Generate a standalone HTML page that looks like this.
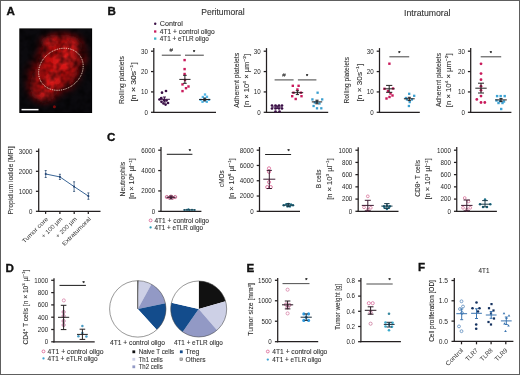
<!DOCTYPE html>
<html><head><meta charset="utf-8"><style>
html,body{margin:0;padding:0;background:#fff;}
body{width:520px;height:375px;overflow:hidden;}
#wrap{position:relative;width:520px;height:375px;overflow:hidden;}
svg{display:block;font-family:"Liberation Sans", sans-serif;filter:blur(0.3px);}
#frame{position:absolute;left:0;top:0;width:520px;height:375px;box-sizing:border-box;border:1px solid #5e5e5e;}
</style></head><body>
<div id="wrap">
<svg width="520" height="375" viewBox="0 0 520 375">
<rect width="520" height="375" fill="#fff"/>
<text x="6.40" y="14.60" font-size="11.6" text-anchor="start" fill="#111" font-weight="bold" stroke="#111" stroke-width="0.35">A</text>
<text x="107.40" y="14.60" font-size="11.6" text-anchor="start" fill="#111" font-weight="bold" stroke="#111" stroke-width="0.35">B</text>
<text x="107.00" y="140.50" font-size="11.6" text-anchor="start" fill="#111" font-weight="bold" stroke="#111" stroke-width="0.35">C</text>
<text x="5.60" y="272.00" font-size="11.6" text-anchor="start" fill="#111" font-weight="bold" stroke="#111" stroke-width="0.35">D</text>
<text x="246.60" y="271.60" font-size="11.6" text-anchor="start" fill="#111" font-weight="bold" stroke="#111" stroke-width="0.35">E</text>
<text x="418.00" y="271.10" font-size="11.6" text-anchor="start" fill="#111" font-weight="bold" stroke="#111" stroke-width="0.35">F</text>
<defs>
<radialGradient id="rg1" cx="0.5" cy="0.5" r="0.5">
<stop offset="0" stop-color="#d41414" stop-opacity="1"/>
<stop offset="0.6" stop-color="#c00e0e" stop-opacity="0.9"/>
<stop offset="1" stop-color="#600505" stop-opacity="0"/>
</radialGradient>
<radialGradient id="rg2" cx="0.5" cy="0.5" r="0.5">
<stop offset="0" stop-color="#ff2a2a" stop-opacity="0.75"/>
<stop offset="1" stop-color="#ff2020" stop-opacity="0"/>
</radialGradient>
<radialGradient id="rg3" cx="0.5" cy="0.5" r="0.5">
<stop offset="0" stop-color="#a00a0a" stop-opacity="0.8"/>
<stop offset="1" stop-color="#a00a0a" stop-opacity="0"/>
</radialGradient>
<filter id="noiseA" x="0" y="0" width="1" height="1" color-interpolation-filters="sRGB">
<feTurbulence type="fractalNoise" baseFrequency="0.14" numOctaves="2" seed="4" result="t"/>
<feColorMatrix in="t" type="matrix" values="0 0 0 0 0  0 0 0 0 0  0 0 0 0 0  2.2 0 0 0 -0.8"/>
</filter>
<filter id="blA" x="-30%" y="-30%" width="160%" height="160%"><feGaussianBlur stdDeviation="3.2"/></filter>
<clipPath id="clipA"><rect x="20" y="29.1" width="71.4" height="83.2"/></clipPath>
</defs>
<rect x="19.3" y="28.4" width="72.8" height="84.6" fill="#000"/>
<rect x="20" y="29.1" width="71.4" height="83.2" fill="#0b0a0e"/>
<g clip-path="url(#clipA)">
<g filter="url(#blA)">
<ellipse cx="58" cy="66" rx="27" ry="31" fill="url(#rg1)"/>
<ellipse cx="62" cy="44" rx="26" ry="13" fill="url(#rg1)" opacity="0.85"/>
<ellipse cx="44" cy="88" rx="19" ry="17" fill="url(#rg1)" opacity="0.85"/>
<ellipse cx="34" cy="76" rx="10" ry="17" fill="url(#rg3)"/>
<ellipse cx="82" cy="58" rx="7" ry="14" fill="url(#rg3)"/>
<ellipse cx="66" cy="60" rx="15" ry="12" fill="url(#rg2)"/>
<ellipse cx="72" cy="46" rx="10" ry="7" fill="url(#rg2)"/>
<ellipse cx="50" cy="42" rx="9" ry="6" fill="url(#rg2)"/>
<ellipse cx="52" cy="80" rx="12" ry="10" fill="url(#rg2)"/>
<ellipse cx="44" cy="96" rx="10" ry="6" fill="url(#rg2)"/>
</g>
<rect x="20" y="29.1" width="71.4" height="83.2" fill="#000" filter="url(#noiseA)" opacity="0.6"/>
<circle cx="54.4" cy="106.8" r="1.5" fill="#7a0a0a"/>
</g>
<ellipse cx="60.8" cy="69.3" rx="23.4" ry="19.8" transform="rotate(-35 60.8 69.1)" fill="none" stroke="#f6e4d0" stroke-width="0.9" stroke-dasharray="0.9 0.9"/>
<rect x="21.5" y="108.9" width="17" height="1.5" fill="#fff"/>
<line x1="38.70" y1="148.40" x2="38.70" y2="211.93" stroke="#231f20" stroke-width="1.25"/>
<line x1="38.08" y1="211.30" x2="100.50" y2="211.30" stroke="#231f20" stroke-width="1.25"/>
<line x1="35.90" y1="151.30" x2="38.70" y2="151.30" stroke="#231f20" stroke-width="1.25"/>
<text x="32.50" y="153.68" font-size="6.696000000000001" text-anchor="end" fill="#262626" textLength="13.79" lengthAdjust="spacingAndGlyphs" >3000</text>
<line x1="35.90" y1="171.30" x2="38.70" y2="171.30" stroke="#231f20" stroke-width="1.25"/>
<text x="32.50" y="173.68" font-size="6.696000000000001" text-anchor="end" fill="#262626" textLength="13.79" lengthAdjust="spacingAndGlyphs" >2000</text>
<line x1="35.90" y1="191.30" x2="38.70" y2="191.30" stroke="#231f20" stroke-width="1.25"/>
<text x="32.50" y="193.68" font-size="6.696000000000001" text-anchor="end" fill="#262626" textLength="13.79" lengthAdjust="spacingAndGlyphs" >1000</text>
<line x1="35.90" y1="211.30" x2="38.70" y2="211.30" stroke="#231f20" stroke-width="1.25"/>
<text x="32.50" y="213.68" font-size="6.696000000000001" text-anchor="end" fill="#262626" textLength="3.45" lengthAdjust="spacingAndGlyphs" >0</text>
<line x1="45.60" y1="211.30" x2="45.60" y2="213.90" stroke="#231f20" stroke-width="1.25"/>
<line x1="59.90" y1="211.30" x2="59.90" y2="213.90" stroke="#231f20" stroke-width="1.25"/>
<line x1="74.20" y1="211.30" x2="74.20" y2="213.90" stroke="#231f20" stroke-width="1.25"/>
<line x1="88.30" y1="211.30" x2="88.30" y2="213.90" stroke="#231f20" stroke-width="1.25"/>
<polyline points="45.7,174.0 59.9,176.9 74.1,186.6 88.4,196.1" fill="none" stroke="#3a6696" stroke-width="1.0"/>
<line x1="45.70" y1="170.50" x2="45.70" y2="177.50" stroke="#3a5a84" stroke-width="0.8"/>
<line x1="44.70" y1="170.50" x2="46.70" y2="170.50" stroke="#2a4a70" stroke-width="0.8"/>
<line x1="44.70" y1="177.50" x2="46.70" y2="177.50" stroke="#2a4a70" stroke-width="0.8"/>
<rect x="44.85" y="173.15" width="1.7" height="1.7" fill="#1b3d6e"/>
<line x1="59.90" y1="174.30" x2="59.90" y2="179.50" stroke="#3a5a84" stroke-width="0.8"/>
<line x1="58.90" y1="174.30" x2="60.90" y2="174.30" stroke="#2a4a70" stroke-width="0.8"/>
<line x1="58.90" y1="179.50" x2="60.90" y2="179.50" stroke="#2a4a70" stroke-width="0.8"/>
<rect x="59.05" y="176.05" width="1.7" height="1.7" fill="#1b3d6e"/>
<line x1="74.10" y1="181.80" x2="74.10" y2="191.40" stroke="#3a5a84" stroke-width="0.8"/>
<line x1="73.10" y1="181.80" x2="75.10" y2="181.80" stroke="#2a4a70" stroke-width="0.8"/>
<line x1="73.10" y1="191.40" x2="75.10" y2="191.40" stroke="#2a4a70" stroke-width="0.8"/>
<rect x="73.25" y="185.75" width="1.7" height="1.7" fill="#1b3d6e"/>
<line x1="88.40" y1="192.90" x2="88.40" y2="199.30" stroke="#3a5a84" stroke-width="0.8"/>
<line x1="87.40" y1="192.90" x2="89.40" y2="192.90" stroke="#2a4a70" stroke-width="0.8"/>
<line x1="87.40" y1="199.30" x2="89.40" y2="199.30" stroke="#2a4a70" stroke-width="0.8"/>
<rect x="87.55" y="195.25" width="1.7" height="1.7" fill="#1b3d6e"/>
<text x="13.46" y="180.50" font-size="6.9" text-anchor="middle" fill="#333333" stroke="#333333" stroke-width="0.1" transform="rotate(-90 13.46 180.50)" textLength="68.2" lengthAdjust="spacingAndGlyphs" >Propidium iodide [MFI]</text>
<text x="48.60" y="219.40" font-size="6.0" text-anchor="end" fill="#333333" transform="rotate(-45 48.60 219.4)" textLength="34" lengthAdjust="spacingAndGlyphs">Tumor core</text>
<text x="62.90" y="219.40" font-size="6.0" text-anchor="end" fill="#333333" transform="rotate(-45 62.90 219.4)" textLength="27" lengthAdjust="spacingAndGlyphs">+ 100 µm</text>
<text x="77.20" y="219.40" font-size="6.0" text-anchor="end" fill="#333333" transform="rotate(-45 77.20 219.4)" textLength="27" lengthAdjust="spacingAndGlyphs">+ 200 µm</text>
<text x="91.30" y="219.40" font-size="6.0" text-anchor="end" fill="#333333" transform="rotate(-45 91.30 219.4)" textLength="38" lengthAdjust="spacingAndGlyphs">Extratumoral</text>
<text x="223.00" y="15.40" font-size="8.4" text-anchor="middle" fill="#333" stroke="#333" stroke-width="0.1" textLength="43.5" lengthAdjust="spacingAndGlyphs" >Peritumoral</text>
<text x="427.30" y="15.60" font-size="8.4" text-anchor="middle" fill="#333" stroke="#333" stroke-width="0.1" textLength="46.5" lengthAdjust="spacingAndGlyphs" >Intratumoral</text>
<circle cx="155.20" cy="23.80" r="1.2" fill="#3a0f46"/>
<rect x="154.05" y="30.35" width="2.3" height="2.3" fill="#c91a5b"/>
<rect x="154.05" y="37.45" width="2.3" height="2.3" fill="#3fb2c8"/>
<text x="159.80" y="26.00" font-size="6.5" text-anchor="start" fill="#333" stroke="#333" stroke-width="0.1" textLength="23" lengthAdjust="spacingAndGlyphs" >Control</text>
<text x="159.80" y="33.70" font-size="6.5" text-anchor="start" fill="#333" stroke="#333" stroke-width="0.1" textLength="55" lengthAdjust="spacingAndGlyphs" >4T1 + control oligo</text>
<text x="159.80" y="41.00" font-size="6.5" text-anchor="start" fill="#333" stroke="#333" stroke-width="0.1" textLength="49" lengthAdjust="spacingAndGlyphs" >4T1 + eTLR oligo</text>
<line x1="153.80" y1="48.10" x2="153.80" y2="112.92" stroke="#231f20" stroke-width="1.25"/>
<line x1="153.18" y1="112.30" x2="216.00" y2="112.30" stroke="#231f20" stroke-width="1.25"/>
<line x1="151.00" y1="51.20" x2="153.80" y2="51.20" stroke="#231f20" stroke-width="1.25"/>
<text x="148.00" y="53.58" font-size="6.696000000000001" text-anchor="end" fill="#262626" textLength="6.89" lengthAdjust="spacingAndGlyphs" >30</text>
<line x1="151.00" y1="71.57" x2="153.80" y2="71.57" stroke="#231f20" stroke-width="1.25"/>
<text x="148.00" y="73.94" font-size="6.696000000000001" text-anchor="end" fill="#262626" textLength="6.89" lengthAdjust="spacingAndGlyphs" >20</text>
<line x1="151.00" y1="91.93" x2="153.80" y2="91.93" stroke="#231f20" stroke-width="1.25"/>
<text x="148.00" y="94.31" font-size="6.696000000000001" text-anchor="end" fill="#262626" textLength="6.89" lengthAdjust="spacingAndGlyphs" >10</text>
<line x1="151.00" y1="112.30" x2="153.80" y2="112.30" stroke="#231f20" stroke-width="1.25"/>
<text x="148.00" y="114.68" font-size="6.696000000000001" text-anchor="end" fill="#262626" textLength="3.45" lengthAdjust="spacingAndGlyphs" >0</text>
<text x="124.46" y="80.10" font-size="6.9" text-anchor="middle" fill="#333333" stroke="#333333" stroke-width="0.1" transform="rotate(-90 124.46 80.10)" textLength="47.8" lengthAdjust="spacingAndGlyphs" >Rolling platelets</text>
<text x="135.56" y="81.90" font-size="6.9" text-anchor="middle" fill="#333333" stroke="#333333" stroke-width="0.1" transform="rotate(-90 135.56 81.90)" textLength="39.4" lengthAdjust="spacingAndGlyphs" >[n × 30s<tspan dy="-2.4" font-size="4.4">−1</tspan><tspan dy="2.4">]</tspan></text>
<line x1="161.80" y1="55.20" x2="180.80" y2="55.20" stroke="#4a4a4a" stroke-width="1.05"/>
<text x="171.30" y="52.20" font-size="6.2" text-anchor="middle" fill="#333" stroke="#333" stroke-width="0.1" >#</text>
<line x1="185.00" y1="55.20" x2="203.80" y2="55.20" stroke="#4a4a4a" stroke-width="1.05"/>
<text x="194.20" y="53.60" font-size="5.6" text-anchor="middle" fill="#222" stroke="#222" stroke-width="0.25" >*</text>
<circle cx="162.00" cy="92.70" r="1.35" fill="#3a0f46"/>
<circle cx="166.00" cy="91.00" r="1.35" fill="#3a0f46"/>
<circle cx="159.50" cy="99.50" r="1.35" fill="#3a0f46"/>
<circle cx="161.50" cy="101.80" r="1.35" fill="#3a0f46"/>
<circle cx="163.50" cy="103.50" r="1.35" fill="#3a0f46"/>
<circle cx="165.60" cy="104.60" r="1.35" fill="#3a0f46"/>
<circle cx="168.00" cy="103.00" r="1.35" fill="#3a0f46"/>
<circle cx="161.20" cy="98.20" r="1.35" fill="#3a0f46"/>
<circle cx="166.50" cy="100.50" r="1.35" fill="#3a0f46"/>
<circle cx="164.00" cy="100.00" r="1.35" fill="#3a0f46"/>
<line x1="158.90" y1="99.30" x2="169.90" y2="99.30" stroke="#3a0f46" stroke-width="1.0"/>
<line x1="164.40" y1="97.00" x2="164.40" y2="102.00" stroke="#3a0f46" stroke-width="1.0"/>
<line x1="162.80" y1="97.00" x2="166.00" y2="97.00" stroke="#3a0f46" stroke-width="1.0"/>
<line x1="162.80" y1="102.00" x2="166.00" y2="102.00" stroke="#3a0f46" stroke-width="1.0"/>
<rect x="183.40" y="58.90" width="2.4" height="2.4" fill="#c91a5b"/>
<rect x="183.40" y="67.90" width="2.4" height="2.4" fill="#c91a5b"/>
<rect x="183.40" y="72.80" width="2.4" height="2.4" fill="#c91a5b"/>
<rect x="181.30" y="83.20" width="2.4" height="2.4" fill="#c91a5b"/>
<rect x="184.80" y="87.00" width="2.4" height="2.4" fill="#c91a5b"/>
<rect x="187.30" y="85.30" width="2.4" height="2.4" fill="#c91a5b"/>
<rect x="181.30" y="89.90" width="2.4" height="2.4" fill="#c91a5b"/>
<rect x="183.80" y="78.80" width="2.4" height="2.4" fill="#c91a5b"/>
<line x1="179.30" y1="79.40" x2="190.50" y2="79.40" stroke="#231f20" stroke-width="1.0"/>
<line x1="184.90" y1="75.30" x2="184.90" y2="83.30" stroke="#231f20" stroke-width="1.0"/>
<line x1="183.10" y1="75.30" x2="186.70" y2="75.30" stroke="#231f20" stroke-width="1.0"/>
<line x1="183.10" y1="83.30" x2="186.70" y2="83.30" stroke="#231f20" stroke-width="1.0"/>
<rect x="203.85" y="93.35" width="2.3" height="2.3" fill="#52b6e6"/>
<rect x="201.65" y="95.85" width="2.3" height="2.3" fill="#52b6e6"/>
<rect x="205.85" y="95.65" width="2.3" height="2.3" fill="#52b6e6"/>
<rect x="203.65" y="97.45" width="2.3" height="2.3" fill="#52b6e6"/>
<rect x="199.45" y="98.65" width="2.3" height="2.3" fill="#52b6e6"/>
<rect x="207.85" y="98.65" width="2.3" height="2.3" fill="#52b6e6"/>
<rect x="201.35" y="100.65" width="2.3" height="2.3" fill="#52b6e6"/>
<rect x="205.65" y="100.65" width="2.3" height="2.3" fill="#52b6e6"/>
<rect x="203.45" y="99.35" width="2.3" height="2.3" fill="#52b6e6"/>
<line x1="199.10" y1="99.50" x2="210.30" y2="99.50" stroke="#231f20" stroke-width="1.0"/>
<line x1="204.70" y1="98.20" x2="204.70" y2="100.80" stroke="#231f20" stroke-width="1.0"/>
<line x1="203.10" y1="98.20" x2="206.30" y2="98.20" stroke="#231f20" stroke-width="1.0"/>
<line x1="203.10" y1="100.80" x2="206.30" y2="100.80" stroke="#231f20" stroke-width="1.0"/>
<line x1="266.50" y1="48.10" x2="266.50" y2="112.92" stroke="#231f20" stroke-width="1.25"/>
<line x1="265.88" y1="112.30" x2="328.20" y2="112.30" stroke="#231f20" stroke-width="1.25"/>
<line x1="263.70" y1="51.20" x2="266.50" y2="51.20" stroke="#231f20" stroke-width="1.25"/>
<text x="260.70" y="53.58" font-size="6.696000000000001" text-anchor="end" fill="#262626" textLength="6.89" lengthAdjust="spacingAndGlyphs" >30</text>
<line x1="263.70" y1="71.57" x2="266.50" y2="71.57" stroke="#231f20" stroke-width="1.25"/>
<text x="260.70" y="73.94" font-size="6.696000000000001" text-anchor="end" fill="#262626" textLength="6.89" lengthAdjust="spacingAndGlyphs" >20</text>
<line x1="263.70" y1="91.93" x2="266.50" y2="91.93" stroke="#231f20" stroke-width="1.25"/>
<text x="260.70" y="94.31" font-size="6.696000000000001" text-anchor="end" fill="#262626" textLength="6.89" lengthAdjust="spacingAndGlyphs" >10</text>
<line x1="263.70" y1="112.30" x2="266.50" y2="112.30" stroke="#231f20" stroke-width="1.25"/>
<text x="260.70" y="114.68" font-size="6.696000000000001" text-anchor="end" fill="#262626" textLength="3.45" lengthAdjust="spacingAndGlyphs" >0</text>
<text x="238.76" y="80.30" font-size="6.9" text-anchor="middle" fill="#333333" stroke="#333333" stroke-width="0.1" transform="rotate(-90 238.76 80.30)" textLength="54.8" lengthAdjust="spacingAndGlyphs" >Adherent platelets</text>
<text x="248.66" y="80.50" font-size="6.9" text-anchor="middle" fill="#333333" stroke="#333333" stroke-width="0.1" transform="rotate(-90 248.66 80.50)" textLength="53.3" lengthAdjust="spacingAndGlyphs" >[n × 10<tspan dy="-2.4" font-size="4.4">4</tspan><tspan dy="2.4"> × µm</tspan><tspan dy="-2.4" font-size="4.4">−2</tspan><tspan dy="2.4">]</tspan></text>
<line x1="274.60" y1="79.90" x2="293.60" y2="79.90" stroke="#4a4a4a" stroke-width="1.05"/>
<text x="284.10" y="76.90" font-size="6.2" text-anchor="middle" fill="#333" stroke="#333" stroke-width="0.1" >#</text>
<line x1="297.90" y1="79.90" x2="316.40" y2="79.90" stroke="#4a4a4a" stroke-width="1.05"/>
<text x="307.10" y="78.30" font-size="5.6" text-anchor="middle" fill="#222" stroke="#222" stroke-width="0.25" >*</text>
<circle cx="272.00" cy="105.50" r="1.35" fill="#3a0f46"/>
<circle cx="275.50" cy="105.50" r="1.35" fill="#3a0f46"/>
<circle cx="279.00" cy="105.50" r="1.35" fill="#3a0f46"/>
<circle cx="282.00" cy="105.50" r="1.35" fill="#3a0f46"/>
<circle cx="272.00" cy="108.50" r="1.35" fill="#3a0f46"/>
<circle cx="275.50" cy="108.50" r="1.35" fill="#3a0f46"/>
<circle cx="279.00" cy="108.50" r="1.35" fill="#3a0f46"/>
<circle cx="282.00" cy="108.50" r="1.35" fill="#3a0f46"/>
<circle cx="275.50" cy="111.50" r="1.35" fill="#3a0f46"/>
<circle cx="279.50" cy="111.50" r="1.35" fill="#3a0f46"/>
<line x1="271.80" y1="107.00" x2="282.60" y2="107.00" stroke="#3a0f46" stroke-width="1.0"/>
<line x1="277.20" y1="106.00" x2="277.20" y2="108.40" stroke="#3a0f46" stroke-width="1.0"/>
<line x1="275.60" y1="106.00" x2="278.80" y2="106.00" stroke="#3a0f46" stroke-width="1.0"/>
<line x1="275.60" y1="108.40" x2="278.80" y2="108.40" stroke="#3a0f46" stroke-width="1.0"/>
<rect x="291.60" y="84.60" width="2.4" height="2.4" fill="#c91a5b"/>
<rect x="297.40" y="84.60" width="2.4" height="2.4" fill="#c91a5b"/>
<rect x="291.00" y="95.00" width="2.4" height="2.4" fill="#c91a5b"/>
<rect x="300.30" y="95.00" width="2.4" height="2.4" fill="#c91a5b"/>
<rect x="294.50" y="97.80" width="2.4" height="2.4" fill="#c91a5b"/>
<rect x="299.70" y="91.50" width="2.4" height="2.4" fill="#c91a5b"/>
<rect x="292.30" y="91.50" width="2.4" height="2.4" fill="#c91a5b"/>
<rect x="296.20" y="88.30" width="2.4" height="2.4" fill="#c91a5b"/>
<line x1="291.60" y1="92.70" x2="303.20" y2="92.70" stroke="#231f20" stroke-width="1.0"/>
<line x1="297.40" y1="90.80" x2="297.40" y2="94.60" stroke="#231f20" stroke-width="1.0"/>
<line x1="295.80" y1="90.80" x2="299.00" y2="90.80" stroke="#231f20" stroke-width="1.0"/>
<line x1="295.80" y1="94.60" x2="299.00" y2="94.60" stroke="#231f20" stroke-width="1.0"/>
<rect x="316.45" y="91.55" width="2.3" height="2.3" fill="#3a9fd0"/>
<rect x="311.25" y="98.25" width="2.3" height="2.3" fill="#3a9fd0"/>
<rect x="321.05" y="98.25" width="2.3" height="2.3" fill="#3a9fd0"/>
<rect x="312.45" y="104.85" width="2.3" height="2.3" fill="#3a9fd0"/>
<rect x="315.85" y="107.15" width="2.3" height="2.3" fill="#3a9fd0"/>
<rect x="320.15" y="107.15" width="2.3" height="2.3" fill="#3a9fd0"/>
<rect x="315.85" y="100.75" width="2.3" height="2.3" fill="#3a9fd0"/>
<rect x="318.35" y="102.35" width="2.3" height="2.3" fill="#3a9fd0"/>
<rect x="313.65" y="101.35" width="2.3" height="2.3" fill="#3a9fd0"/>
<line x1="311.80" y1="101.90" x2="322.20" y2="101.90" stroke="#231f20" stroke-width="1.0"/>
<line x1="317.00" y1="100.20" x2="317.00" y2="103.80" stroke="#231f20" stroke-width="1.0"/>
<line x1="315.40" y1="100.20" x2="318.60" y2="100.20" stroke="#231f20" stroke-width="1.0"/>
<line x1="315.40" y1="103.80" x2="318.60" y2="103.80" stroke="#231f20" stroke-width="1.0"/>
<line x1="379.50" y1="48.10" x2="379.50" y2="112.92" stroke="#231f20" stroke-width="1.25"/>
<line x1="378.88" y1="112.30" x2="419.80" y2="112.30" stroke="#231f20" stroke-width="1.25"/>
<line x1="376.70" y1="51.20" x2="379.50" y2="51.20" stroke="#231f20" stroke-width="1.25"/>
<text x="373.70" y="53.58" font-size="6.696000000000001" text-anchor="end" fill="#262626" textLength="6.89" lengthAdjust="spacingAndGlyphs" >30</text>
<line x1="376.70" y1="71.57" x2="379.50" y2="71.57" stroke="#231f20" stroke-width="1.25"/>
<text x="373.70" y="73.94" font-size="6.696000000000001" text-anchor="end" fill="#262626" textLength="6.89" lengthAdjust="spacingAndGlyphs" >20</text>
<line x1="376.70" y1="91.93" x2="379.50" y2="91.93" stroke="#231f20" stroke-width="1.25"/>
<text x="373.70" y="94.31" font-size="6.696000000000001" text-anchor="end" fill="#262626" textLength="6.89" lengthAdjust="spacingAndGlyphs" >10</text>
<line x1="376.70" y1="112.30" x2="379.50" y2="112.30" stroke="#231f20" stroke-width="1.25"/>
<text x="373.70" y="114.68" font-size="6.696000000000001" text-anchor="end" fill="#262626" textLength="3.45" lengthAdjust="spacingAndGlyphs" >0</text>
<text x="349.51" y="80.20" font-size="6.9" text-anchor="middle" fill="#333333" stroke="#333333" stroke-width="0.1" transform="rotate(-90 349.51 80.20)" textLength="46.4" lengthAdjust="spacingAndGlyphs" >Rolling platelets</text>
<text x="361.66" y="82.60" font-size="6.9" text-anchor="middle" fill="#333333" stroke="#333333" stroke-width="0.1" transform="rotate(-90 361.66 82.60)" textLength="37.8" lengthAdjust="spacingAndGlyphs" >[n × 30s<tspan dy="-2.4" font-size="4.4">−1</tspan><tspan dy="2.4">]</tspan></text>
<line x1="389.40" y1="56.80" x2="409.20" y2="56.80" stroke="#4a4a4a" stroke-width="1.05"/>
<text x="399.40" y="55.20" font-size="5.6" text-anchor="middle" fill="#222" stroke="#222" stroke-width="0.25" >*</text>
<rect x="388.20" y="62.50" width="2.4" height="2.4" fill="#c91a5b"/>
<rect x="383.30" y="87.60" width="2.4" height="2.4" fill="#c91a5b"/>
<rect x="391.80" y="87.30" width="2.4" height="2.4" fill="#c91a5b"/>
<rect x="386.80" y="89.80" width="2.4" height="2.4" fill="#c91a5b"/>
<rect x="389.30" y="92.30" width="2.4" height="2.4" fill="#c91a5b"/>
<rect x="391.30" y="94.30" width="2.4" height="2.4" fill="#c91a5b"/>
<rect x="388.30" y="95.80" width="2.4" height="2.4" fill="#c91a5b"/>
<rect x="385.30" y="97.30" width="2.4" height="2.4" fill="#c91a5b"/>
<line x1="383.70" y1="88.80" x2="394.70" y2="88.80" stroke="#231f20" stroke-width="1.0"/>
<line x1="389.20" y1="85.40" x2="389.20" y2="92.30" stroke="#231f20" stroke-width="1.0"/>
<line x1="386.10" y1="85.40" x2="392.30" y2="85.40" stroke="#231f20" stroke-width="1.0"/>
<line x1="386.10" y1="92.30" x2="392.30" y2="92.30" stroke="#231f20" stroke-width="1.0"/>
<rect x="408.05" y="92.65" width="2.3" height="2.3" fill="#3a9fd0"/>
<rect x="413.05" y="94.65" width="2.3" height="2.3" fill="#3a9fd0"/>
<rect x="404.75" y="96.85" width="2.3" height="2.3" fill="#3a9fd0"/>
<rect x="410.75" y="98.35" width="2.3" height="2.3" fill="#3a9fd0"/>
<rect x="408.55" y="100.95" width="2.3" height="2.3" fill="#3a9fd0"/>
<rect x="407.75" y="104.85" width="2.3" height="2.3" fill="#3a9fd0"/>
<rect x="405.85" y="98.35" width="2.3" height="2.3" fill="#3a9fd0"/>
<line x1="403.90" y1="98.80" x2="414.70" y2="98.80" stroke="#231f20" stroke-width="1.0"/>
<line x1="409.30" y1="97.30" x2="409.30" y2="100.60" stroke="#231f20" stroke-width="1.0"/>
<line x1="407.70" y1="97.30" x2="410.90" y2="97.30" stroke="#231f20" stroke-width="1.0"/>
<line x1="407.70" y1="100.60" x2="410.90" y2="100.60" stroke="#231f20" stroke-width="1.0"/>
<line x1="470.70" y1="48.10" x2="470.70" y2="112.92" stroke="#231f20" stroke-width="1.25"/>
<line x1="470.07" y1="112.30" x2="511.40" y2="112.30" stroke="#231f20" stroke-width="1.25"/>
<line x1="467.90" y1="51.20" x2="470.70" y2="51.20" stroke="#231f20" stroke-width="1.25"/>
<text x="464.90" y="53.58" font-size="6.696000000000001" text-anchor="end" fill="#262626" textLength="6.89" lengthAdjust="spacingAndGlyphs" >30</text>
<line x1="467.90" y1="71.57" x2="470.70" y2="71.57" stroke="#231f20" stroke-width="1.25"/>
<text x="464.90" y="73.94" font-size="6.696000000000001" text-anchor="end" fill="#262626" textLength="6.89" lengthAdjust="spacingAndGlyphs" >20</text>
<line x1="467.90" y1="91.93" x2="470.70" y2="91.93" stroke="#231f20" stroke-width="1.25"/>
<text x="464.90" y="94.31" font-size="6.696000000000001" text-anchor="end" fill="#262626" textLength="6.89" lengthAdjust="spacingAndGlyphs" >10</text>
<line x1="467.90" y1="112.30" x2="470.70" y2="112.30" stroke="#231f20" stroke-width="1.25"/>
<text x="464.90" y="114.68" font-size="6.696000000000001" text-anchor="end" fill="#262626" textLength="3.45" lengthAdjust="spacingAndGlyphs" >0</text>
<text x="440.56" y="80.00" font-size="6.9" text-anchor="middle" fill="#333333" stroke="#333333" stroke-width="0.1" transform="rotate(-90 440.56 80.00)" textLength="54.2" lengthAdjust="spacingAndGlyphs" >Adherent platelets</text>
<text x="450.66" y="80.20" font-size="6.9" text-anchor="middle" fill="#333333" stroke="#333333" stroke-width="0.1" transform="rotate(-90 450.66 80.20)" textLength="53.9" lengthAdjust="spacingAndGlyphs" >[n × 10<tspan dy="-2.4" font-size="4.4">4</tspan><tspan dy="2.4"> × µm</tspan><tspan dy="-2.4" font-size="4.4">−2</tspan><tspan dy="2.4">]</tspan></text>
<line x1="480.70" y1="56.80" x2="501.20" y2="56.80" stroke="#4a4a4a" stroke-width="1.05"/>
<text x="490.90" y="55.20" font-size="5.6" text-anchor="middle" fill="#222" stroke="#222" stroke-width="0.25" >*</text>
<circle cx="481.00" cy="63.80" r="1.4" fill="#c91a5b"/>
<circle cx="481.00" cy="73.60" r="1.4" fill="#c91a5b"/>
<circle cx="481.00" cy="79.70" r="1.4" fill="#c91a5b"/>
<circle cx="481.00" cy="86.20" r="1.4" fill="#c91a5b"/>
<circle cx="481.00" cy="90.30" r="1.4" fill="#c91a5b"/>
<circle cx="481.00" cy="96.10" r="1.4" fill="#c91a5b"/>
<circle cx="476.80" cy="99.40" r="1.4" fill="#c91a5b"/>
<circle cx="481.00" cy="102.50" r="1.4" fill="#c91a5b"/>
<circle cx="484.80" cy="102.50" r="1.4" fill="#c91a5b"/>
<line x1="475.30" y1="88.20" x2="486.70" y2="88.20" stroke="#231f20" stroke-width="1.0"/>
<line x1="481.00" y1="83.20" x2="481.00" y2="93.00" stroke="#231f20" stroke-width="1.0"/>
<line x1="478.00" y1="83.20" x2="484.00" y2="83.20" stroke="#231f20" stroke-width="1.0"/>
<line x1="478.00" y1="93.00" x2="484.00" y2="93.00" stroke="#231f20" stroke-width="1.0"/>
<rect x="495.90" y="94.90" width="2.4" height="2.4" fill="#3ea3d4"/>
<rect x="499.50" y="94.90" width="2.4" height="2.4" fill="#3ea3d4"/>
<rect x="503.50" y="94.90" width="2.4" height="2.4" fill="#3ea3d4"/>
<rect x="495.30" y="99.30" width="2.4" height="2.4" fill="#3ea3d4"/>
<rect x="498.80" y="99.80" width="2.4" height="2.4" fill="#3ea3d4"/>
<rect x="502.80" y="100.30" width="2.4" height="2.4" fill="#3ea3d4"/>
<rect x="497.30" y="101.80" width="2.4" height="2.4" fill="#3ea3d4"/>
<rect x="501.30" y="101.80" width="2.4" height="2.4" fill="#3ea3d4"/>
<rect x="500.00" y="107.80" width="2.4" height="2.4" fill="#3ea3d4"/>
<line x1="495.20" y1="99.90" x2="506.80" y2="99.90" stroke="#231f20" stroke-width="1.0"/>
<line x1="501.00" y1="98.60" x2="501.00" y2="101.60" stroke="#231f20" stroke-width="1.0"/>
<line x1="499.40" y1="98.60" x2="502.60" y2="98.60" stroke="#231f20" stroke-width="1.0"/>
<line x1="499.40" y1="101.60" x2="502.60" y2="101.60" stroke="#231f20" stroke-width="1.0"/>
<line x1="161.00" y1="147.00" x2="161.00" y2="211.93" stroke="#231f20" stroke-width="1.25"/>
<line x1="160.38" y1="211.30" x2="201.40" y2="211.30" stroke="#231f20" stroke-width="1.25"/>
<line x1="158.20" y1="150.20" x2="161.00" y2="150.20" stroke="#231f20" stroke-width="1.25"/>
<text x="155.10" y="152.58" font-size="6.696000000000001" text-anchor="end" fill="#262626" textLength="13.79" lengthAdjust="spacingAndGlyphs" >6000</text>
<line x1="158.20" y1="170.57" x2="161.00" y2="170.57" stroke="#231f20" stroke-width="1.25"/>
<text x="155.10" y="172.94" font-size="6.696000000000001" text-anchor="end" fill="#262626" textLength="13.79" lengthAdjust="spacingAndGlyphs" >4000</text>
<line x1="158.20" y1="190.93" x2="161.00" y2="190.93" stroke="#231f20" stroke-width="1.25"/>
<text x="155.10" y="193.31" font-size="6.696000000000001" text-anchor="end" fill="#262626" textLength="13.79" lengthAdjust="spacingAndGlyphs" >2000</text>
<line x1="158.20" y1="211.30" x2="161.00" y2="211.30" stroke="#231f20" stroke-width="1.25"/>
<text x="155.10" y="213.68" font-size="6.696000000000001" text-anchor="end" fill="#262626" textLength="3.45" lengthAdjust="spacingAndGlyphs" >0</text>
<text x="124.86" y="179.10" font-size="6.9" text-anchor="middle" fill="#333333" stroke="#333333" stroke-width="0.1" transform="rotate(-90 124.86 179.10)" textLength="34.8" lengthAdjust="spacingAndGlyphs" >Neutrophils</text>
<text x="134.06" y="178.60" font-size="6.9" text-anchor="middle" fill="#333333" stroke="#333333" stroke-width="0.1" transform="rotate(-90 134.06 178.60)" textLength="40.9" lengthAdjust="spacingAndGlyphs" >[n × 10<tspan dy="-2.4" font-size="4.4">6</tspan><tspan dy="2.4"> µl</tspan><tspan dy="-2.4" font-size="4.4">−1</tspan><tspan dy="2.4">]</tspan></text>
<line x1="166.80" y1="154.30" x2="192.40" y2="154.30" stroke="#222" stroke-width="1.05"/>
<text x="189.90" y="152.70" font-size="5.6" text-anchor="middle" fill="#222" stroke="#222" stroke-width="0.25" >*</text>
<circle cx="166.80" cy="197.00" r="1.56" fill="none" stroke="#b02a62" stroke-width="0.65"/>
<circle cx="169.50" cy="197.80" r="1.56" fill="none" stroke="#b02a62" stroke-width="0.65"/>
<circle cx="172.50" cy="197.80" r="1.56" fill="none" stroke="#b02a62" stroke-width="0.65"/>
<circle cx="175.20" cy="197.00" r="1.56" fill="none" stroke="#b02a62" stroke-width="0.65"/>
<circle cx="171.00" cy="196.60" r="1.56" fill="none" stroke="#b02a62" stroke-width="0.65"/>
<line x1="166.40" y1="197.30" x2="175.60" y2="197.30" stroke="#3a1a30" stroke-width="1.1"/>
<line x1="171.00" y1="196.00" x2="171.00" y2="198.80" stroke="#3a1a30" stroke-width="1.1"/>
<line x1="169.40" y1="196.00" x2="172.60" y2="196.00" stroke="#3a1a30" stroke-width="1.1"/>
<line x1="169.40" y1="198.80" x2="172.60" y2="198.80" stroke="#3a1a30" stroke-width="1.1"/>
<circle cx="184.50" cy="210.00" r="1.1" fill="#1f7088"/>
<circle cx="187.00" cy="209.80" r="1.1" fill="#1f7088"/>
<circle cx="189.50" cy="210.00" r="1.1" fill="#1f7088"/>
<circle cx="192.00" cy="209.80" r="1.1" fill="#1f7088"/>
<circle cx="194.50" cy="210.00" r="1.1" fill="#1f7088"/>
<circle cx="188.50" cy="209.40" r="1.1" fill="#1f7088"/>
<line x1="183.50" y1="209.90" x2="195.50" y2="209.90" stroke="#1a3a48" stroke-width="0.9"/>
<circle cx="150.60" cy="220.40" r="1.44" fill="none" stroke="#d0407a" stroke-width="0.65"/>
<circle cx="150.60" cy="227.40" r="1.15" fill="#2a9ab8"/>
<text x="154.40" y="222.60" font-size="6.3" text-anchor="start" fill="#333" stroke="#333" stroke-width="0.1" textLength="54.6" lengthAdjust="spacingAndGlyphs" >4T1 + control oligo</text>
<text x="154.40" y="229.60" font-size="6.3" text-anchor="start" fill="#333" stroke="#333" stroke-width="0.1" textLength="48.6" lengthAdjust="spacingAndGlyphs" >4T1 + eTLR oligo</text>
<line x1="259.50" y1="147.00" x2="259.50" y2="211.93" stroke="#231f20" stroke-width="1.25"/>
<line x1="258.88" y1="211.30" x2="300.00" y2="211.30" stroke="#231f20" stroke-width="1.25"/>
<line x1="256.70" y1="150.20" x2="259.50" y2="150.20" stroke="#231f20" stroke-width="1.25"/>
<text x="253.60" y="152.58" font-size="6.696000000000001" text-anchor="end" fill="#262626" textLength="13.79" lengthAdjust="spacingAndGlyphs" >8000</text>
<line x1="256.70" y1="165.47" x2="259.50" y2="165.47" stroke="#231f20" stroke-width="1.25"/>
<text x="253.60" y="167.85" font-size="6.696000000000001" text-anchor="end" fill="#262626" textLength="13.79" lengthAdjust="spacingAndGlyphs" >6000</text>
<line x1="256.70" y1="180.75" x2="259.50" y2="180.75" stroke="#231f20" stroke-width="1.25"/>
<text x="253.60" y="183.13" font-size="6.696000000000001" text-anchor="end" fill="#262626" textLength="13.79" lengthAdjust="spacingAndGlyphs" >4000</text>
<line x1="256.70" y1="196.03" x2="259.50" y2="196.03" stroke="#231f20" stroke-width="1.25"/>
<text x="253.60" y="198.40" font-size="6.696000000000001" text-anchor="end" fill="#262626" textLength="13.79" lengthAdjust="spacingAndGlyphs" >2000</text>
<line x1="256.70" y1="211.30" x2="259.50" y2="211.30" stroke="#231f20" stroke-width="1.25"/>
<text x="253.60" y="213.68" font-size="6.696000000000001" text-anchor="end" fill="#262626" textLength="3.45" lengthAdjust="spacingAndGlyphs" >0</text>
<text x="224.36" y="178.70" font-size="6.9" text-anchor="middle" fill="#333333" stroke="#333333" stroke-width="0.1" transform="rotate(-90 224.36 178.70)" textLength="16.5" lengthAdjust="spacingAndGlyphs" >cMOs</text>
<text x="233.61" y="178.60" font-size="6.9" text-anchor="middle" fill="#333333" stroke="#333333" stroke-width="0.1" transform="rotate(-90 233.61 178.60)" textLength="40.9" lengthAdjust="spacingAndGlyphs" >[n × 10<tspan dy="-2.4" font-size="4.4">6</tspan><tspan dy="2.4"> µl</tspan><tspan dy="-2.4" font-size="4.4">−1</tspan><tspan dy="2.4">]</tspan></text>
<line x1="265.10" y1="154.50" x2="291.10" y2="154.50" stroke="#222" stroke-width="1.05"/>
<text x="288.60" y="152.90" font-size="5.6" text-anchor="middle" fill="#222" stroke="#222" stroke-width="0.25" >*</text>
<circle cx="269.00" cy="168.30" r="1.56" fill="none" stroke="#d0407a" stroke-width="0.65"/>
<circle cx="269.00" cy="171.80" r="1.56" fill="none" stroke="#d0407a" stroke-width="0.65"/>
<circle cx="269.00" cy="182.20" r="1.56" fill="none" stroke="#d0407a" stroke-width="0.65"/>
<circle cx="267.20" cy="187.10" r="1.56" fill="none" stroke="#d0407a" stroke-width="0.65"/>
<circle cx="270.80" cy="187.10" r="1.56" fill="none" stroke="#d0407a" stroke-width="0.65"/>
<line x1="263.30" y1="179.20" x2="275.30" y2="179.20" stroke="#3a1a30" stroke-width="1.0"/>
<line x1="269.30" y1="170.40" x2="269.30" y2="188.50" stroke="#3a1a30" stroke-width="1.0"/>
<line x1="266.70" y1="170.40" x2="271.90" y2="170.40" stroke="#3a1a30" stroke-width="1.0"/>
<line x1="266.70" y1="188.50" x2="271.90" y2="188.50" stroke="#3a1a30" stroke-width="1.0"/>
<circle cx="283.80" cy="205.20" r="1.2" fill="#1f7088"/>
<circle cx="286.30" cy="204.30" r="1.2" fill="#1f7088"/>
<circle cx="288.50" cy="204.00" r="1.2" fill="#1f7088"/>
<circle cx="291.00" cy="204.50" r="1.2" fill="#1f7088"/>
<circle cx="293.00" cy="205.30" r="1.2" fill="#1f7088"/>
<circle cx="287.50" cy="206.40" r="1.2" fill="#1f7088"/>
<circle cx="290.00" cy="206.40" r="1.2" fill="#1f7088"/>
<line x1="282.50" y1="205.20" x2="294.10" y2="205.20" stroke="#1a3a48" stroke-width="1.0"/>
<line x1="288.30" y1="203.60" x2="288.30" y2="206.60" stroke="#1a3a48" stroke-width="1.0"/>
<line x1="286.70" y1="203.60" x2="289.90" y2="203.60" stroke="#1a3a48" stroke-width="1.0"/>
<line x1="286.70" y1="206.60" x2="289.90" y2="206.60" stroke="#1a3a48" stroke-width="1.0"/>
<line x1="358.20" y1="147.30" x2="358.20" y2="211.93" stroke="#231f20" stroke-width="1.25"/>
<line x1="357.57" y1="211.30" x2="398.50" y2="211.30" stroke="#231f20" stroke-width="1.25"/>
<line x1="355.40" y1="150.20" x2="358.20" y2="150.20" stroke="#231f20" stroke-width="1.25"/>
<text x="352.30" y="152.58" font-size="6.696000000000001" text-anchor="end" fill="#262626" textLength="13.79" lengthAdjust="spacingAndGlyphs" >1000</text>
<line x1="355.40" y1="162.42" x2="358.20" y2="162.42" stroke="#231f20" stroke-width="1.25"/>
<text x="352.30" y="164.80" font-size="6.696000000000001" text-anchor="end" fill="#262626" textLength="10.34" lengthAdjust="spacingAndGlyphs" >800</text>
<line x1="355.40" y1="174.64" x2="358.20" y2="174.64" stroke="#231f20" stroke-width="1.25"/>
<text x="352.30" y="177.02" font-size="6.696000000000001" text-anchor="end" fill="#262626" textLength="10.34" lengthAdjust="spacingAndGlyphs" >600</text>
<line x1="355.40" y1="186.86" x2="358.20" y2="186.86" stroke="#231f20" stroke-width="1.25"/>
<text x="352.30" y="189.24" font-size="6.696000000000001" text-anchor="end" fill="#262626" textLength="10.34" lengthAdjust="spacingAndGlyphs" >400</text>
<line x1="355.40" y1="199.08" x2="358.20" y2="199.08" stroke="#231f20" stroke-width="1.25"/>
<text x="352.30" y="201.46" font-size="6.696000000000001" text-anchor="end" fill="#262626" textLength="10.34" lengthAdjust="spacingAndGlyphs" >200</text>
<line x1="355.40" y1="211.30" x2="358.20" y2="211.30" stroke="#231f20" stroke-width="1.25"/>
<text x="352.30" y="213.68" font-size="6.696000000000001" text-anchor="end" fill="#262626" textLength="3.45" lengthAdjust="spacingAndGlyphs" >0</text>
<text x="321.41" y="178.80" font-size="6.9" text-anchor="middle" fill="#333333" stroke="#333333" stroke-width="0.1" transform="rotate(-90 321.41 178.80)" textLength="18.7" lengthAdjust="spacingAndGlyphs" >B cells</text>
<text x="331.81" y="179.00" font-size="6.9" text-anchor="middle" fill="#333333" stroke="#333333" stroke-width="0.1" transform="rotate(-90 331.81 179.00)" textLength="41.7" lengthAdjust="spacingAndGlyphs" >[n × 10<tspan dy="-2.4" font-size="4.4">3</tspan><tspan dy="2.4"> µl</tspan><tspan dy="-2.4" font-size="4.4">−1</tspan><tspan dy="2.4">]</tspan></text>
<circle cx="367.80" cy="196.30" r="1.38" fill="none" stroke="#d05a88" stroke-width="0.65"/>
<circle cx="364.00" cy="207.30" r="1.38" fill="none" stroke="#d05a88" stroke-width="0.65"/>
<circle cx="370.80" cy="207.80" r="1.38" fill="none" stroke="#d05a88" stroke-width="0.65"/>
<circle cx="367.80" cy="209.60" r="1.38" fill="none" stroke="#d05a88" stroke-width="0.65"/>
<line x1="361.80" y1="205.40" x2="373.80" y2="205.40" stroke="#3a1a30" stroke-width="1.0"/>
<line x1="367.80" y1="200.30" x2="367.80" y2="210.80" stroke="#3a1a30" stroke-width="1.0"/>
<line x1="364.80" y1="200.30" x2="370.80" y2="200.30" stroke="#3a1a30" stroke-width="1.0"/>
<line x1="364.80" y1="210.80" x2="370.80" y2="210.80" stroke="#3a1a30" stroke-width="1.0"/>
<circle cx="384.00" cy="206.20" r="1.2" fill="#1f7088"/>
<circle cx="387.00" cy="205.50" r="1.2" fill="#1f7088"/>
<circle cx="389.80" cy="206.20" r="1.2" fill="#1f7088"/>
<circle cx="384.50" cy="207.80" r="1.2" fill="#1f7088"/>
<circle cx="389.00" cy="207.60" r="1.2" fill="#1f7088"/>
<circle cx="386.90" cy="209.00" r="1.2" fill="#1f7088"/>
<line x1="381.30" y1="206.10" x2="392.50" y2="206.10" stroke="#1a3a48" stroke-width="1.0"/>
<line x1="386.90" y1="203.60" x2="386.90" y2="208.40" stroke="#1a3a48" stroke-width="1.0"/>
<line x1="384.20" y1="203.60" x2="389.60" y2="203.60" stroke="#1a3a48" stroke-width="1.0"/>
<line x1="384.20" y1="208.40" x2="389.60" y2="208.40" stroke="#1a3a48" stroke-width="1.0"/>
<line x1="456.75" y1="147.00" x2="456.75" y2="211.93" stroke="#231f20" stroke-width="1.25"/>
<line x1="456.12" y1="211.30" x2="496.90" y2="211.30" stroke="#231f20" stroke-width="1.25"/>
<line x1="453.95" y1="150.20" x2="456.75" y2="150.20" stroke="#231f20" stroke-width="1.25"/>
<text x="450.85" y="152.58" font-size="6.696000000000001" text-anchor="end" fill="#262626" textLength="13.79" lengthAdjust="spacingAndGlyphs" >1000</text>
<line x1="453.95" y1="162.42" x2="456.75" y2="162.42" stroke="#231f20" stroke-width="1.25"/>
<text x="450.85" y="164.80" font-size="6.696000000000001" text-anchor="end" fill="#262626" textLength="10.34" lengthAdjust="spacingAndGlyphs" >800</text>
<line x1="453.95" y1="174.64" x2="456.75" y2="174.64" stroke="#231f20" stroke-width="1.25"/>
<text x="450.85" y="177.02" font-size="6.696000000000001" text-anchor="end" fill="#262626" textLength="10.34" lengthAdjust="spacingAndGlyphs" >600</text>
<line x1="453.95" y1="186.86" x2="456.75" y2="186.86" stroke="#231f20" stroke-width="1.25"/>
<text x="450.85" y="189.24" font-size="6.696000000000001" text-anchor="end" fill="#262626" textLength="10.34" lengthAdjust="spacingAndGlyphs" >400</text>
<line x1="453.95" y1="199.08" x2="456.75" y2="199.08" stroke="#231f20" stroke-width="1.25"/>
<text x="450.85" y="201.46" font-size="6.696000000000001" text-anchor="end" fill="#262626" textLength="10.34" lengthAdjust="spacingAndGlyphs" >200</text>
<line x1="453.95" y1="211.30" x2="456.75" y2="211.30" stroke="#231f20" stroke-width="1.25"/>
<text x="450.85" y="213.68" font-size="6.696000000000001" text-anchor="end" fill="#262626" textLength="3.45" lengthAdjust="spacingAndGlyphs" >0</text>
<text x="420.01" y="178.40" font-size="6.9" text-anchor="middle" fill="#333333" stroke="#333333" stroke-width="0.1" transform="rotate(-90 420.01 178.40)" textLength="36.9" lengthAdjust="spacingAndGlyphs" >CD8<tspan dy="-2.4" font-size="4.4">+</tspan><tspan dy="2.4"> T cells</tspan></text>
<text x="430.06" y="178.90" font-size="6.9" text-anchor="middle" fill="#333333" stroke="#333333" stroke-width="0.1" transform="rotate(-90 430.06 178.90)" textLength="41.4" lengthAdjust="spacingAndGlyphs" >[n × 10<tspan dy="-2.4" font-size="4.4">3</tspan><tspan dy="2.4"> µl</tspan><tspan dy="-2.4" font-size="4.4">−1</tspan><tspan dy="2.4">]</tspan></text>
<circle cx="464.70" cy="198.00" r="1.38" fill="none" stroke="#d05a88" stroke-width="0.65"/>
<circle cx="468.50" cy="201.40" r="1.38" fill="none" stroke="#d05a88" stroke-width="0.65"/>
<circle cx="463.00" cy="207.80" r="1.38" fill="none" stroke="#d05a88" stroke-width="0.65"/>
<circle cx="470.20" cy="207.80" r="1.38" fill="none" stroke="#d05a88" stroke-width="0.65"/>
<circle cx="466.80" cy="209.60" r="1.38" fill="none" stroke="#d05a88" stroke-width="0.65"/>
<line x1="461.10" y1="205.40" x2="472.50" y2="205.40" stroke="#3a1a30" stroke-width="1.0"/>
<line x1="466.80" y1="200.00" x2="466.80" y2="210.80" stroke="#3a1a30" stroke-width="1.0"/>
<line x1="463.60" y1="200.00" x2="470.00" y2="200.00" stroke="#3a1a30" stroke-width="1.0"/>
<line x1="463.60" y1="210.80" x2="470.00" y2="210.80" stroke="#3a1a30" stroke-width="1.0"/>
<circle cx="485.00" cy="199.40" r="1.25" fill="#1f7088"/>
<circle cx="480.00" cy="204.20" r="1.25" fill="#1f7088"/>
<circle cx="490.30" cy="204.20" r="1.25" fill="#1f7088"/>
<circle cx="483.00" cy="207.00" r="1.25" fill="#1f7088"/>
<circle cx="487.00" cy="207.00" r="1.25" fill="#1f7088"/>
<line x1="479.40" y1="204.20" x2="490.60" y2="204.20" stroke="#1a3a48" stroke-width="1.0"/>
<line x1="485.00" y1="200.60" x2="485.00" y2="206.90" stroke="#1a3a48" stroke-width="1.0"/>
<line x1="482.20" y1="200.60" x2="487.80" y2="200.60" stroke="#1a3a48" stroke-width="1.0"/>
<line x1="482.20" y1="206.90" x2="487.80" y2="206.90" stroke="#1a3a48" stroke-width="1.0"/>
<line x1="54.00" y1="278.20" x2="54.00" y2="342.43" stroke="#231f20" stroke-width="1.25"/>
<line x1="53.38" y1="341.80" x2="94.70" y2="341.80" stroke="#231f20" stroke-width="1.25"/>
<line x1="51.20" y1="280.30" x2="54.00" y2="280.30" stroke="#231f20" stroke-width="1.25"/>
<text x="48.10" y="282.68" font-size="6.696000000000001" text-anchor="end" fill="#262626" textLength="13.79" lengthAdjust="spacingAndGlyphs" >1000</text>
<line x1="51.20" y1="292.60" x2="54.00" y2="292.60" stroke="#231f20" stroke-width="1.25"/>
<text x="48.10" y="294.98" font-size="6.696000000000001" text-anchor="end" fill="#262626" textLength="10.34" lengthAdjust="spacingAndGlyphs" >800</text>
<line x1="51.20" y1="304.90" x2="54.00" y2="304.90" stroke="#231f20" stroke-width="1.25"/>
<text x="48.10" y="307.28" font-size="6.696000000000001" text-anchor="end" fill="#262626" textLength="10.34" lengthAdjust="spacingAndGlyphs" >600</text>
<line x1="51.20" y1="317.20" x2="54.00" y2="317.20" stroke="#231f20" stroke-width="1.25"/>
<text x="48.10" y="319.58" font-size="6.696000000000001" text-anchor="end" fill="#262626" textLength="10.34" lengthAdjust="spacingAndGlyphs" >400</text>
<line x1="51.20" y1="329.50" x2="54.00" y2="329.50" stroke="#231f20" stroke-width="1.25"/>
<text x="48.10" y="331.88" font-size="6.696000000000001" text-anchor="end" fill="#262626" textLength="10.34" lengthAdjust="spacingAndGlyphs" >200</text>
<line x1="51.20" y1="341.80" x2="54.00" y2="341.80" stroke="#231f20" stroke-width="1.25"/>
<text x="48.10" y="344.18" font-size="6.696000000000001" text-anchor="end" fill="#262626" textLength="3.45" lengthAdjust="spacingAndGlyphs" >0</text>
<text x="27.66" y="307.00" font-size="6.9" text-anchor="middle" fill="#333333" stroke="#333333" stroke-width="0.1" transform="rotate(-90 27.66 307.00)" textLength="74.9" lengthAdjust="spacingAndGlyphs" >CD4<tspan dy="-2.4" font-size="4.4">+</tspan><tspan dy="2.4"> T cells [n × 10</tspan><tspan dy="-2.4" font-size="4.4">3</tspan><tspan dy="2.4"> µl</tspan><tspan dy="-2.4" font-size="4.4">−1</tspan><tspan dy="2.4">]</tspan></text>
<line x1="59.50" y1="285.40" x2="85.90" y2="285.40" stroke="#222" stroke-width="1.05"/>
<text x="83.60" y="284.50" font-size="5.6" text-anchor="middle" fill="#222" stroke="#222" stroke-width="0.25" >*</text>
<circle cx="63.80" cy="300.40" r="1.56" fill="none" stroke="#d06a98" stroke-width="0.65"/>
<circle cx="63.60" cy="312.00" r="1.56" fill="none" stroke="#9a3068" stroke-width="0.65"/>
<circle cx="63.60" cy="316.00" r="1.56" fill="none" stroke="#9a3068" stroke-width="0.65"/>
<circle cx="63.60" cy="321.00" r="1.56" fill="none" stroke="#9a3068" stroke-width="0.65"/>
<circle cx="63.60" cy="325.00" r="1.56" fill="none" stroke="#9a3068" stroke-width="0.65"/>
<line x1="58.00" y1="317.30" x2="69.20" y2="317.30" stroke="#231f20" stroke-width="1.0"/>
<line x1="63.60" y1="305.30" x2="63.60" y2="329.60" stroke="#231f20" stroke-width="1.0"/>
<line x1="60.80" y1="305.30" x2="66.40" y2="305.30" stroke="#231f20" stroke-width="1.0"/>
<line x1="60.80" y1="329.60" x2="66.40" y2="329.60" stroke="#231f20" stroke-width="1.0"/>
<circle cx="82.40" cy="326.10" r="1.25" fill="#4a9cc4"/>
<circle cx="78.40" cy="336.30" r="1.25" fill="#4a9cc4"/>
<circle cx="86.40" cy="336.60" r="1.25" fill="#4a9cc4"/>
<circle cx="82.40" cy="333.00" r="1.25" fill="#4a9cc4"/>
<line x1="77.00" y1="334.40" x2="87.80" y2="334.40" stroke="#231f20" stroke-width="1.0"/>
<line x1="82.40" y1="329.20" x2="82.40" y2="339.40" stroke="#231f20" stroke-width="1.0"/>
<line x1="79.60" y1="329.20" x2="85.20" y2="329.20" stroke="#231f20" stroke-width="1.0"/>
<line x1="79.60" y1="339.40" x2="85.20" y2="339.40" stroke="#231f20" stroke-width="1.0"/>
<circle cx="43.50" cy="351.40" r="1.44" fill="none" stroke="#d0407a" stroke-width="0.65"/>
<circle cx="43.50" cy="358.40" r="1.15" fill="#3ea3d4"/>
<text x="47.60" y="353.60" font-size="6.4" text-anchor="start" fill="#333" stroke="#333" stroke-width="0.1" textLength="56" lengthAdjust="spacingAndGlyphs" >4T1 + control oligo</text>
<text x="47.60" y="360.60" font-size="6.4" text-anchor="start" fill="#333" stroke="#333" stroke-width="0.1" textLength="50" lengthAdjust="spacingAndGlyphs" >4T1 + eTLR oligo</text>
<path d="M137.80,308.90 L137.80,280.70 A28.2,28.2 0 0 1 138.54,280.71 Z" fill="#111111"/>
<path d="M137.80,308.90 L138.54,280.71 A28.2,28.2 0 0 1 151.39,284.19 Z" fill="#cdd0e6"/>
<path d="M137.80,308.90 L151.39,284.19 A28.2,28.2 0 0 1 165.44,303.33 Z" fill="#9299c5"/>
<path d="M137.80,308.90 L165.44,303.33 A28.2,28.2 0 0 1 156.67,329.86 Z" fill="#134c8c"/>
<path d="M137.80,308.90 L156.67,329.86 A28.2,28.2 0 1 1 137.80,280.70 Z" fill="#ffffff"/>
<circle cx="137.8" cy="308.9" r="28.2" fill="none" stroke="#444" stroke-width="0.55"/>
<line x1="137.70" y1="308.90" x2="137.70" y2="280.70" stroke="#222" stroke-width="0.8"/>
<path d="M198.70,309.00 L198.70,281.00 A28.0,28.0 0 0 1 225.62,301.28 Z" fill="#111111"/>
<path d="M198.70,309.00 L225.62,301.28 A28.0,28.0 0 0 1 217.07,330.13 Z" fill="#cdd0e6"/>
<path d="M198.70,309.00 L217.07,330.13 A28.0,28.0 0 0 1 182.64,331.94 Z" fill="#9299c5"/>
<path d="M198.70,309.00 L182.64,331.94 A28.0,28.0 0 0 1 171.42,302.70 Z" fill="#134c8c"/>
<path d="M198.70,309.00 L171.42,302.70 A28.0,28.0 0 0 1 198.70,281.00 Z" fill="#ffffff"/>
<circle cx="198.7" cy="309.0" r="28.0" fill="none" stroke="#444" stroke-width="0.55"/>
<text x="137.50" y="345.20" font-size="6.5" text-anchor="middle" fill="#333" stroke="#333" stroke-width="0.1" textLength="55" lengthAdjust="spacingAndGlyphs" >4T1 + control oligo</text>
<text x="198.40" y="345.20" font-size="6.5" text-anchor="middle" fill="#333" stroke="#333" stroke-width="0.1" textLength="49" lengthAdjust="spacingAndGlyphs" >4T1 + eTLR oligo</text>
<rect x="132.40" y="350.40" width="2.8" height="2.8" fill="#111"/>
<rect x="132.40" y="357.90" width="2.8" height="2.8" fill="#cdd0e6"/>
<rect x="132.40" y="365.40" width="2.8" height="2.8" fill="#9299c5"/>
<rect x="179.90" y="350.40" width="2.8" height="2.8" fill="#134c8c"/>
<rect x="180.0" y="358.0" width="2.6" height="2.6" fill="#fff" stroke="#555" stroke-width="0.55"/>
<line x1="181.30" y1="358.00" x2="181.30" y2="360.60" stroke="#777" stroke-width="0.4"/>
<line x1="180.00" y1="359.30" x2="182.60" y2="359.30" stroke="#777" stroke-width="0.4"/>
<text x="138.70" y="354.10" font-size="6.5" text-anchor="start" fill="#333" stroke="#333" stroke-width="0.1" textLength="35.5" lengthAdjust="spacingAndGlyphs" >Naive T cells</text>
<text x="138.70" y="361.60" font-size="6.5" text-anchor="start" fill="#333" stroke="#333" stroke-width="0.1" textLength="24" lengthAdjust="spacingAndGlyphs" >Th1 cells</text>
<text x="138.70" y="369.10" font-size="6.5" text-anchor="start" fill="#333" stroke="#333" stroke-width="0.1" textLength="24" lengthAdjust="spacingAndGlyphs" >Th2 cells</text>
<text x="185.50" y="354.10" font-size="6.5" text-anchor="start" fill="#333" stroke="#333" stroke-width="0.1" textLength="13.8" lengthAdjust="spacingAndGlyphs" >Treg</text>
<text x="185.50" y="361.60" font-size="6.5" text-anchor="start" fill="#333" stroke="#333" stroke-width="0.1" textLength="20" lengthAdjust="spacingAndGlyphs" >Others</text>
<line x1="277.70" y1="277.90" x2="277.70" y2="342.32" stroke="#231f20" stroke-width="1.25"/>
<line x1="277.07" y1="341.70" x2="318.20" y2="341.70" stroke="#231f20" stroke-width="1.25"/>
<line x1="274.90" y1="280.30" x2="277.70" y2="280.30" stroke="#231f20" stroke-width="1.25"/>
<text x="271.80" y="282.68" font-size="6.696000000000001" text-anchor="end" fill="#262626" textLength="13.79" lengthAdjust="spacingAndGlyphs" >1500</text>
<line x1="274.90" y1="300.77" x2="277.70" y2="300.77" stroke="#231f20" stroke-width="1.25"/>
<text x="271.80" y="303.14" font-size="6.696000000000001" text-anchor="end" fill="#262626" textLength="13.79" lengthAdjust="spacingAndGlyphs" >1000</text>
<line x1="274.90" y1="321.23" x2="277.70" y2="321.23" stroke="#231f20" stroke-width="1.25"/>
<text x="271.80" y="323.61" font-size="6.696000000000001" text-anchor="end" fill="#262626" textLength="10.34" lengthAdjust="spacingAndGlyphs" >500</text>
<line x1="274.90" y1="341.70" x2="277.70" y2="341.70" stroke="#231f20" stroke-width="1.25"/>
<text x="271.80" y="344.08" font-size="6.696000000000001" text-anchor="end" fill="#262626" textLength="3.45" lengthAdjust="spacingAndGlyphs" >0</text>
<text x="253.21" y="309.40" font-size="6.9" text-anchor="middle" fill="#333333" stroke="#333333" stroke-width="0.1" transform="rotate(-90 253.21 309.40)" textLength="52.6" lengthAdjust="spacingAndGlyphs" >Tumor size [mm<tspan dy="-2.4" font-size="4.4">3</tspan><tspan dy="2.4">]</tspan></text>
<line x1="282.50" y1="283.60" x2="309.50" y2="283.60" stroke="#555" stroke-width="1.05"/>
<text x="306.30" y="282.00" font-size="5.6" text-anchor="middle" fill="#222" stroke="#222" stroke-width="0.25" >*</text>
<circle cx="287.60" cy="289.70" r="1.56" fill="none" stroke="#d06a98" stroke-width="0.65"/>
<circle cx="287.60" cy="313.40" r="1.56" fill="none" stroke="#d06a98" stroke-width="0.65"/>
<circle cx="286.00" cy="304.50" r="1.56" fill="none" stroke="#9a3068" stroke-width="0.65"/>
<circle cx="289.50" cy="305.00" r="1.56" fill="none" stroke="#9a3068" stroke-width="0.65"/>
<circle cx="287.60" cy="307.50" r="1.56" fill="none" stroke="#9a3068" stroke-width="0.65"/>
<line x1="282.00" y1="304.80" x2="293.20" y2="304.80" stroke="#2a1a24" stroke-width="1.0"/>
<line x1="287.60" y1="301.00" x2="287.60" y2="308.90" stroke="#2a1a24" stroke-width="1.0"/>
<line x1="284.80" y1="301.00" x2="290.40" y2="301.00" stroke="#2a1a24" stroke-width="1.0"/>
<line x1="284.80" y1="308.90" x2="290.40" y2="308.90" stroke="#2a1a24" stroke-width="1.0"/>
<circle cx="303.80" cy="313.90" r="1.55" fill="#2f9be0"/>
<circle cx="308.60" cy="313.90" r="1.55" fill="#2f9be0"/>
<circle cx="303.80" cy="320.40" r="1.55" fill="#2f9be0"/>
<circle cx="308.60" cy="320.40" r="1.55" fill="#2f9be0"/>
<circle cx="306.20" cy="317.20" r="1.55" fill="#2f9be0"/>
<line x1="300.60" y1="317.20" x2="311.80" y2="317.20" stroke="#1a2a38" stroke-width="1.0"/>
<line x1="306.20" y1="313.90" x2="306.20" y2="320.40" stroke="#1a2a38" stroke-width="1.0"/>
<line x1="304.60" y1="313.90" x2="307.80" y2="313.90" stroke="#1a2a38" stroke-width="1.0"/>
<line x1="304.60" y1="320.40" x2="307.80" y2="320.40" stroke="#1a2a38" stroke-width="1.0"/>
<circle cx="267.80" cy="351.50" r="1.44" fill="none" stroke="#d0407a" stroke-width="0.65"/>
<circle cx="267.80" cy="359.60" r="1.15" fill="#3ea3d4"/>
<text x="272.30" y="353.70" font-size="6.4" text-anchor="start" fill="#333" stroke="#333" stroke-width="0.1" textLength="55" lengthAdjust="spacingAndGlyphs" >4T1 + control oligo</text>
<text x="272.30" y="362.00" font-size="6.4" text-anchor="start" fill="#333" stroke="#333" stroke-width="0.1" textLength="49" lengthAdjust="spacingAndGlyphs" >4T1 + eTLR oligo</text>
<line x1="360.90" y1="277.90" x2="360.90" y2="342.32" stroke="#231f20" stroke-width="1.25"/>
<line x1="360.27" y1="341.70" x2="400.90" y2="341.70" stroke="#231f20" stroke-width="1.25"/>
<line x1="358.10" y1="280.90" x2="360.90" y2="280.90" stroke="#231f20" stroke-width="1.25"/>
<text x="355.00" y="283.28" font-size="6.696000000000001" text-anchor="end" fill="#262626" textLength="8.62" lengthAdjust="spacingAndGlyphs" >0.8</text>
<line x1="358.10" y1="296.10" x2="360.90" y2="296.10" stroke="#231f20" stroke-width="1.25"/>
<text x="355.00" y="298.48" font-size="6.696000000000001" text-anchor="end" fill="#262626" textLength="8.62" lengthAdjust="spacingAndGlyphs" >0.6</text>
<line x1="358.10" y1="311.30" x2="360.90" y2="311.30" stroke="#231f20" stroke-width="1.25"/>
<text x="355.00" y="313.68" font-size="6.696000000000001" text-anchor="end" fill="#262626" textLength="8.62" lengthAdjust="spacingAndGlyphs" >0.4</text>
<line x1="358.10" y1="326.50" x2="360.90" y2="326.50" stroke="#231f20" stroke-width="1.25"/>
<text x="355.00" y="328.88" font-size="6.696000000000001" text-anchor="end" fill="#262626" textLength="8.62" lengthAdjust="spacingAndGlyphs" >0.2</text>
<line x1="358.10" y1="341.70" x2="360.90" y2="341.70" stroke="#231f20" stroke-width="1.25"/>
<text x="355.00" y="344.08" font-size="6.696000000000001" text-anchor="end" fill="#262626" textLength="8.62" lengthAdjust="spacingAndGlyphs" >0.0</text>
<text x="340.41" y="306.80" font-size="6.9" text-anchor="middle" fill="#333333" stroke="#333333" stroke-width="0.1" transform="rotate(-90 340.41 306.80)" textLength="46.1" lengthAdjust="spacingAndGlyphs" >Tumor weight [g]</text>
<line x1="366.40" y1="284.00" x2="392.70" y2="284.00" stroke="#555" stroke-width="1.05"/>
<text x="389.60" y="282.40" font-size="5.6" text-anchor="middle" fill="#222" stroke="#222" stroke-width="0.25" >*</text>
<circle cx="368.80" cy="303.20" r="1.56" fill="none" stroke="#d0508a" stroke-width="0.65"/>
<circle cx="372.70" cy="303.20" r="1.56" fill="none" stroke="#d0508a" stroke-width="0.65"/>
<circle cx="370.60" cy="323.70" r="1.56" fill="none" stroke="#c0608a" stroke-width="0.65"/>
<circle cx="370.60" cy="312.50" r="1.56" fill="none" stroke="#9a3068" stroke-width="0.65"/>
<line x1="364.80" y1="310.30" x2="376.40" y2="310.30" stroke="#2a1a24" stroke-width="1.0"/>
<line x1="370.60" y1="306.80" x2="370.60" y2="314.20" stroke="#2a1a24" stroke-width="1.0"/>
<line x1="367.70" y1="306.80" x2="373.50" y2="306.80" stroke="#2a1a24" stroke-width="1.0"/>
<line x1="367.70" y1="314.20" x2="373.50" y2="314.20" stroke="#2a1a24" stroke-width="1.0"/>
<circle cx="389.00" cy="313.80" r="1.3" fill="#3a8aa0"/>
<circle cx="385.50" cy="322.50" r="1.3" fill="#38aacc"/>
<circle cx="392.50" cy="322.80" r="1.3" fill="#38aacc"/>
<circle cx="385.50" cy="326.50" r="1.3" fill="#38aacc"/>
<circle cx="392.00" cy="326.80" r="1.3" fill="#38aacc"/>
<circle cx="389.00" cy="330.30" r="1.3" fill="#38aacc"/>
<circle cx="389.00" cy="324.40" r="1.3" fill="#38aacc"/>
<line x1="383.80" y1="324.40" x2="394.60" y2="324.40" stroke="#1a2a38" stroke-width="1.0"/>
<line x1="389.20" y1="322.30" x2="389.20" y2="327.00" stroke="#1a2a38" stroke-width="1.0"/>
<line x1="386.60" y1="322.30" x2="391.80" y2="322.30" stroke="#1a2a38" stroke-width="1.0"/>
<line x1="386.60" y1="327.00" x2="391.80" y2="327.00" stroke="#1a2a38" stroke-width="1.0"/>
<text x="484.00" y="272.90" font-size="6.3" text-anchor="middle" fill="#333" stroke="#333" stroke-width="0.1" >4T1</text>
<line x1="454.30" y1="278.00" x2="454.30" y2="342.02" stroke="#231f20" stroke-width="1.25"/>
<line x1="453.68" y1="341.40" x2="513.40" y2="341.40" stroke="#231f20" stroke-width="1.25"/>
<line x1="451.50" y1="280.50" x2="454.30" y2="280.50" stroke="#231f20" stroke-width="1.25"/>
<text x="448.10" y="283.07" font-size="7.236000000000001" text-anchor="end" fill="#262626" textLength="9.31" lengthAdjust="spacingAndGlyphs" >1.5</text>
<line x1="451.50" y1="300.80" x2="454.30" y2="300.80" stroke="#231f20" stroke-width="1.25"/>
<text x="448.10" y="303.37" font-size="7.236000000000001" text-anchor="end" fill="#262626" textLength="9.31" lengthAdjust="spacingAndGlyphs" >1.0</text>
<line x1="451.50" y1="321.10" x2="454.30" y2="321.10" stroke="#231f20" stroke-width="1.25"/>
<text x="448.10" y="323.67" font-size="7.236000000000001" text-anchor="end" fill="#262626" textLength="9.31" lengthAdjust="spacingAndGlyphs" >0.5</text>
<line x1="451.50" y1="341.40" x2="454.30" y2="341.40" stroke="#231f20" stroke-width="1.25"/>
<text x="448.10" y="343.97" font-size="7.236000000000001" text-anchor="end" fill="#262626" textLength="9.31" lengthAdjust="spacingAndGlyphs" >0.0</text>
<line x1="461.50" y1="341.40" x2="461.50" y2="344.30" stroke="#231f20" stroke-width="1.25"/>
<line x1="476.50" y1="341.40" x2="476.50" y2="344.30" stroke="#231f20" stroke-width="1.25"/>
<line x1="491.10" y1="341.40" x2="491.10" y2="344.30" stroke="#231f20" stroke-width="1.25"/>
<line x1="505.80" y1="341.40" x2="505.80" y2="344.30" stroke="#231f20" stroke-width="1.25"/>
<text x="434.06" y="311.00" font-size="6.9" text-anchor="middle" fill="#222" stroke="#222" stroke-width="0.1" transform="rotate(-90 434.06 311.00)" textLength="61.7" lengthAdjust="spacingAndGlyphs" >Cell proliferation [OD]</text>
<circle cx="461.50" cy="301.30" r="1.44" fill="none" stroke="#3a74b0" stroke-width="0.65"/>
<circle cx="463.00" cy="306.50" r="1.44" fill="none" stroke="#3a74b0" stroke-width="0.65"/>
<circle cx="460.00" cy="309.00" r="1.44" fill="none" stroke="#3a74b0" stroke-width="0.65"/>
<circle cx="462.00" cy="313.00" r="1.44" fill="none" stroke="#3a74b0" stroke-width="0.65"/>
<circle cx="459.00" cy="326.40" r="1.44" fill="none" stroke="#3a74b0" stroke-width="0.65"/>
<circle cx="461.50" cy="331.20" r="1.44" fill="none" stroke="#3a74b0" stroke-width="0.65"/>
<line x1="456.30" y1="313.70" x2="467.10" y2="313.70" stroke="#3a74b0" stroke-width="1.0"/>
<line x1="461.70" y1="309.00" x2="461.70" y2="319.70" stroke="#3a74b0" stroke-width="1.0"/>
<line x1="460.20" y1="309.00" x2="463.20" y2="309.00" stroke="#3a74b0" stroke-width="1.0"/>
<line x1="460.20" y1="319.70" x2="463.20" y2="319.70" stroke="#3a74b0" stroke-width="1.0"/>
<circle cx="476.50" cy="302.50" r="1.3" fill="#14315f"/>
<circle cx="472.50" cy="308.20" r="1.3" fill="#14315f"/>
<circle cx="479.50" cy="308.20" r="1.3" fill="#14315f"/>
<circle cx="478.00" cy="311.50" r="1.3" fill="#14315f"/>
<circle cx="476.20" cy="324.50" r="1.3" fill="#14315f"/>
<circle cx="476.20" cy="328.80" r="1.3" fill="#14315f"/>
<line x1="471.10" y1="313.30" x2="481.90" y2="313.30" stroke="#3a74b0" stroke-width="1.0"/>
<line x1="476.50" y1="308.80" x2="476.50" y2="318.50" stroke="#3a74b0" stroke-width="1.0"/>
<line x1="475.00" y1="308.80" x2="478.00" y2="308.80" stroke="#3a74b0" stroke-width="1.0"/>
<line x1="475.00" y1="318.50" x2="478.00" y2="318.50" stroke="#3a74b0" stroke-width="1.0"/>
<rect x="490.40" y="303.00" width="2.2" height="2.2" fill="#14315f"/>
<rect x="487.90" y="307.10" width="2.2" height="2.2" fill="#14315f"/>
<rect x="492.40" y="309.40" width="2.2" height="2.2" fill="#14315f"/>
<rect x="489.90" y="312.40" width="2.2" height="2.2" fill="#14315f"/>
<rect x="492.90" y="317.40" width="2.2" height="2.2" fill="#14315f"/>
<rect x="487.40" y="320.90" width="2.2" height="2.2" fill="#14315f"/>
<rect x="489.90" y="323.40" width="2.2" height="2.2" fill="#14315f"/>
<line x1="485.80" y1="315.00" x2="496.60" y2="315.00" stroke="#3a74b0" stroke-width="1.0"/>
<line x1="491.20" y1="311.50" x2="491.20" y2="318.30" stroke="#3a74b0" stroke-width="1.0"/>
<line x1="489.70" y1="311.50" x2="492.70" y2="311.50" stroke="#3a74b0" stroke-width="1.0"/>
<line x1="489.70" y1="318.30" x2="492.70" y2="318.30" stroke="#3a74b0" stroke-width="1.0"/>
<polygon points="504.00,311.94 502.70,314.20 505.30,314.20" fill="#3a74b0"/>
<polygon points="509.00,314.14 507.70,316.40 510.30,316.40" fill="#3a74b0"/>
<polygon points="506.50,316.64 505.20,318.90 507.80,318.90" fill="#3a74b0"/>
<polygon points="504.50,322.14 503.20,324.40 505.80,324.40" fill="#3a74b0"/>
<polygon points="508.50,324.14 507.20,326.40 509.80,326.40" fill="#3a74b0"/>
<polygon points="505.50,329.84 504.20,332.10 506.80,332.10" fill="#3a74b0"/>
<line x1="500.90" y1="320.90" x2="511.70" y2="320.90" stroke="#3a74b0" stroke-width="1.0"/>
<line x1="506.30" y1="317.00" x2="506.30" y2="324.50" stroke="#3a74b0" stroke-width="1.0"/>
<line x1="504.80" y1="317.00" x2="507.80" y2="317.00" stroke="#3a74b0" stroke-width="1.0"/>
<line x1="504.80" y1="324.50" x2="507.80" y2="324.50" stroke="#3a74b0" stroke-width="1.0"/>
<text x="463.50" y="350.80" font-size="6.3" text-anchor="end" fill="#333333" transform="rotate(-45 463.50 350.8)" textLength="22" lengthAdjust="spacingAndGlyphs">Control</text>
<text x="478.50" y="350.80" font-size="6.3" text-anchor="end" fill="#333333" transform="rotate(-45 478.50 350.8)" textLength="15" lengthAdjust="spacingAndGlyphs">TLR7</text>
<text x="493.10" y="350.80" font-size="6.3" text-anchor="end" fill="#333333" transform="rotate(-45 493.10 350.8)" textLength="15" lengthAdjust="spacingAndGlyphs">TLR8</text>
<text x="507.80" y="350.80" font-size="6.3" text-anchor="end" fill="#333333" transform="rotate(-45 507.80 350.8)" textLength="15" lengthAdjust="spacingAndGlyphs">TLR9</text>
</svg>
<div id="frame"></div>
</div>
</body></html>
